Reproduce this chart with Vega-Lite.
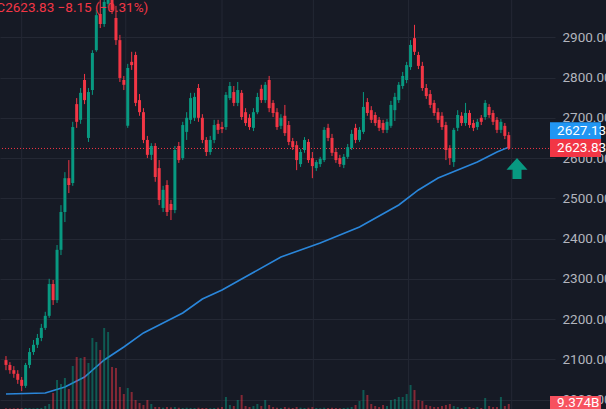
{
  "$schema": "https://vega.github.io/schema/vega-lite/v6.json",
  "width": 555,
  "height": 409,
  "autosize": {"type": "none"},
  "padding": {"left": 0, "top": 0, "right": 51, "bottom": 0},
  "background": "#161A25",
  "config": {"view": {"stroke": null}, "font": "Roboto"},
  "datasets": {
    "candles": [
      {"i":0,"o":2098,"h":2108,"l":2073,"c":2086,"v":1.5},
      {"i":1,"o":2086,"h":2093,"l":2064,"c":2073,"v":1.2},
      {"i":2,"o":2073,"h":2083,"l":2054,"c":2064,"v":1.5},
      {"i":3,"o":2064,"h":2073,"l":2039,"c":2049,"v":1.9},
      {"i":4,"o":2049,"h":2056,"l":2021,"c":2034,"v":1.5},
      {"i":5,"o":2034,"h":2091,"l":2029,"c":2086,"v":1.9},
      {"i":6,"o":2086,"h":2128,"l":2078,"c":2118,"v":1.5},
      {"i":7,"o":2118,"h":2148,"l":2111,"c":2136,"v":1.2},
      {"i":8,"o":2136,"h":2163,"l":2128,"c":2153,"v":1.9},
      {"i":9,"o":2153,"h":2188,"l":2145,"c":2178,"v":1.9},
      {"i":10,"o":2178,"h":2218,"l":2173,"c":2208,"v":5.6},
      {"i":11,"o":2208,"h":2300,"l":2203,"c":2287,"v":9.4},
      {"i":12,"o":2287,"h":2297,"l":2235,"c":2247,"v":30},
      {"i":13,"o":2247,"h":2384,"l":2240,"c":2372,"v":54.4},
      {"i":14,"o":2372,"h":2483,"l":2359,"c":2466,"v":46.9},
      {"i":15,"o":2466,"h":2565,"l":2441,"c":2550,"v":58.1},
      {"i":16,"o":2550,"h":2595,"l":2513,"c":2533,"v":37.5},
      {"i":17,"o":2538,"h":2690,"l":2531,"c":2677,"v":80.6},
      {"i":18,"o":2734,"h":2749,"l":2675,"c":2690,"v":97.5},
      {"i":19,"o":2695,"h":2774,"l":2685,"c":2762,"v":95.6},
      {"i":20,"o":2794,"h":2809,"l":2734,"c":2744,"v":97.5},
      {"i":21,"o":2650,"h":2774,"l":2640,"c":2764,"v":86.3},
      {"i":22,"o":2769,"h":2868,"l":2757,"c":2861,"v":133.1},
      {"i":23,"o":2868,"h":2968,"l":2864,"c":2955,"v":125.6},
      {"i":24,"o":2958,"h":2993,"l":2923,"c":2933,"v":110.6},
      {"i":25,"o":2933,"h":3013,"l":2926,"c":2988,"v":151.9},
      {"i":26,"o":2983,"h":3042,"l":2973,"c":3013,"v":144.4},
      {"i":27,"o":3008,"h":3027,"l":2958,"c":2968,"v":78.8},
      {"i":28,"o":2948,"h":2978,"l":2881,"c":2893,"v":76.9},
      {"i":29,"o":2893,"h":2906,"l":2789,"c":2799,"v":41.3},
      {"i":30,"o":2794,"h":2804,"l":2769,"c":2782,"v":28.1},
      {"i":31,"o":2680,"h":2834,"l":2675,"c":2824,"v":39.4},
      {"i":32,"o":2839,"h":2864,"l":2819,"c":2831,"v":31.9},
      {"i":33,"o":2856,"h":2864,"l":2729,"c":2737,"v":16.9},
      {"i":34,"o":2744,"h":2759,"l":2705,"c":2714,"v":11.3},
      {"i":35,"o":2714,"h":2724,"l":2637,"c":2645,"v":7.5},
      {"i":36,"o":2645,"h":2655,"l":2600,"c":2608,"v":16.9},
      {"i":37,"o":2608,"h":2637,"l":2595,"c":2630,"v":9.4},
      {"i":38,"o":2630,"h":2637,"l":2541,"c":2553,"v":3.8},
      {"i":39,"o":2575,"h":2595,"l":2483,"c":2496,"v":3.8},
      {"i":40,"o":2476,"h":2531,"l":2466,"c":2521,"v":2.5},
      {"i":41,"o":2533,"h":2545,"l":2456,"c":2466,"v":3.8},
      {"i":42,"o":2486,"h":2496,"l":2446,"c":2471,"v":3.0},
      {"i":43,"o":2471,"h":2630,"l":2463,"c":2620,"v":3.8},
      {"i":44,"o":2630,"h":2640,"l":2588,"c":2595,"v":2.5},
      {"i":45,"o":2600,"h":2690,"l":2595,"c":2682,"v":1.9},
      {"i":46,"o":2665,"h":2714,"l":2645,"c":2700,"v":2.5},
      {"i":47,"o":2695,"h":2762,"l":2685,"c":2749,"v":1.9},
      {"i":48,"o":2700,"h":2762,"l":2692,"c":2752,"v":1.9},
      {"i":49,"o":2774,"h":2784,"l":2690,"c":2700,"v":2.5},
      {"i":50,"o":2700,"h":2709,"l":2637,"c":2645,"v":1.9},
      {"i":51,"o":2645,"h":2652,"l":2605,"c":2615,"v":1.9},
      {"i":52,"o":2615,"h":2655,"l":2608,"c":2645,"v":1.5},
      {"i":53,"o":2645,"h":2695,"l":2637,"c":2682,"v":1.9},
      {"i":54,"o":2685,"h":2695,"l":2660,"c":2670,"v":2.5},
      {"i":55,"o":2677,"h":2690,"l":2662,"c":2672,"v":3.8},
      {"i":56,"o":2677,"h":2764,"l":2670,"c":2757,"v":22.5},
      {"i":57,"o":2749,"h":2789,"l":2744,"c":2779,"v":7.5},
      {"i":58,"o":2764,"h":2779,"l":2729,"c":2737,"v":5.6},
      {"i":59,"o":2737,"h":2789,"l":2729,"c":2769,"v":16.9},
      {"i":60,"o":2762,"h":2769,"l":2695,"c":2702,"v":26.3},
      {"i":61,"o":2714,"h":2724,"l":2680,"c":2687,"v":5.6},
      {"i":62,"o":2700,"h":2709,"l":2670,"c":2677,"v":3.8},
      {"i":63,"o":2675,"h":2724,"l":2667,"c":2714,"v":5.6},
      {"i":64,"o":2714,"h":2762,"l":2709,"c":2752,"v":9.4},
      {"i":65,"o":2772,"h":2782,"l":2737,"c":2744,"v":5.6},
      {"i":66,"o":2744,"h":2789,"l":2737,"c":2782,"v":16.9},
      {"i":67,"o":2794,"h":2804,"l":2714,"c":2724,"v":7.5},
      {"i":68,"o":2737,"h":2744,"l":2702,"c":2712,"v":3.8},
      {"i":69,"o":2714,"h":2724,"l":2670,"c":2677,"v":2.5},
      {"i":70,"o":2680,"h":2709,"l":2672,"c":2700,"v":1.9},
      {"i":71,"o":2705,"h":2732,"l":2655,"c":2662,"v":3.8},
      {"i":72,"o":2682,"h":2692,"l":2632,"c":2640,"v":2.5},
      {"i":73,"o":2642,"h":2650,"l":2620,"c":2627,"v":1.9},
      {"i":74,"o":2632,"h":2642,"l":2570,"c":2595,"v":3.8},
      {"i":75,"o":2585,"h":2622,"l":2578,"c":2615,"v":2.5},
      {"i":76,"o":2620,"h":2652,"l":2613,"c":2645,"v":1.9},
      {"i":77,"o":2640,"h":2647,"l":2588,"c":2595,"v":2.5},
      {"i":78,"o":2600,"h":2615,"l":2550,"c":2580,"v":3.8},
      {"i":79,"o":2575,"h":2595,"l":2568,"c":2590,"v":1.9},
      {"i":80,"o":2585,"h":2603,"l":2578,"c":2598,"v":1.5},
      {"i":81,"o":2595,"h":2677,"l":2590,"c":2670,"v":2.5},
      {"i":82,"o":2675,"h":2685,"l":2642,"c":2650,"v":1.9},
      {"i":83,"o":2650,"h":2660,"l":2605,"c":2613,"v":2.5},
      {"i":84,"o":2615,"h":2625,"l":2588,"c":2595,"v":1.9},
      {"i":85,"o":2600,"h":2608,"l":2578,"c":2585,"v":1.5},
      {"i":86,"o":2583,"h":2610,"l":2575,"c":2603,"v":1.9},
      {"i":87,"o":2603,"h":2635,"l":2598,"c":2627,"v":2.5},
      {"i":88,"o":2625,"h":2670,"l":2620,"c":2660,"v":3.8},
      {"i":89,"o":2675,"h":2685,"l":2637,"c":2645,"v":7.5},
      {"i":90,"o":2645,"h":2677,"l":2640,"c":2670,"v":15},
      {"i":91,"o":2665,"h":2764,"l":2660,"c":2727,"v":35.6},
      {"i":92,"o":2739,"h":2749,"l":2705,"c":2712,"v":26.3},
      {"i":93,"o":2719,"h":2729,"l":2687,"c":2695,"v":9.4},
      {"i":94,"o":2707,"h":2714,"l":2680,"c":2687,"v":5.6},
      {"i":95,"o":2695,"h":2702,"l":2667,"c":2675,"v":3.8},
      {"i":96,"o":2687,"h":2695,"l":2662,"c":2670,"v":7.5},
      {"i":97,"o":2670,"h":2697,"l":2662,"c":2690,"v":5.6},
      {"i":98,"o":2680,"h":2742,"l":2675,"c":2732,"v":16.9},
      {"i":99,"o":2719,"h":2762,"l":2692,"c":2752,"v":18.8},
      {"i":100,"o":2744,"h":2789,"l":2737,"c":2782,"v":22.5},
      {"i":101,"o":2779,"h":2814,"l":2772,"c":2804,"v":22.5},
      {"i":102,"o":2794,"h":2839,"l":2786,"c":2831,"v":28.1},
      {"i":103,"o":2826,"h":2893,"l":2819,"c":2881,"v":45},
      {"i":104,"o":2898,"h":2931,"l":2856,"c":2864,"v":35.6},
      {"i":105,"o":2856,"h":2864,"l":2821,"c":2829,"v":16.9},
      {"i":106,"o":2829,"h":2839,"l":2767,"c":2774,"v":15},
      {"i":107,"o":2774,"h":2784,"l":2747,"c":2754,"v":7.5},
      {"i":108,"o":2759,"h":2769,"l":2724,"c":2732,"v":5.6},
      {"i":109,"o":2737,"h":2744,"l":2705,"c":2712,"v":3.8},
      {"i":110,"o":2714,"h":2724,"l":2687,"c":2695,"v":3.8},
      {"i":111,"o":2705,"h":2714,"l":2670,"c":2677,"v":5.6},
      {"i":112,"o":2682,"h":2690,"l":2595,"c":2620,"v":7.5},
      {"i":113,"o":2625,"h":2632,"l":2583,"c":2600,"v":9.4},
      {"i":114,"o":2590,"h":2675,"l":2578,"c":2670,"v":5.6},
      {"i":115,"o":2675,"h":2719,"l":2667,"c":2707,"v":3.8},
      {"i":116,"o":2705,"h":2714,"l":2680,"c":2687,"v":1.9},
      {"i":117,"o":2687,"h":2737,"l":2680,"c":2712,"v":3.8},
      {"i":118,"o":2712,"h":2719,"l":2675,"c":2682,"v":3.8},
      {"i":119,"o":2687,"h":2695,"l":2667,"c":2675,"v":1.9},
      {"i":120,"o":2677,"h":2697,"l":2670,"c":2690,"v":3.8},
      {"i":121,"o":2700,"h":2707,"l":2682,"c":2690,"v":1.9},
      {"i":122,"o":2702,"h":2744,"l":2695,"c":2737,"v":20.6},
      {"i":123,"o":2727,"h":2734,"l":2700,"c":2707,"v":5.6},
      {"i":124,"o":2712,"h":2719,"l":2682,"c":2690,"v":3.8},
      {"i":125,"o":2695,"h":2702,"l":2662,"c":2670,"v":3.8},
      {"i":126,"o":2670,"h":2697,"l":2662,"c":2690,"v":22.5},
      {"i":127,"o":2680,"h":2687,"l":2647,"c":2655,"v":5.6},
      {"i":128,"o":2657,"h":2665,"l":2620,"c":2623.83,"v":9.374}
    ],
    "ma": [
      {"i":0,"m":2013.8},{"i":10,"m":2016.3},{"i":15,"m":2031.2},{"i":20,"m":2056.0},{"i":25,"m":2098.3},
      {"i":30,"m":2130.6},{"i":35,"m":2165.4},{"i":40,"m":2190.2},{"i":45,"m":2215.1},{"i":50,"m":2249.8},
      {"i":55,"m":2272.2},{"i":60,"m":2299.5},{"i":70,"m":2354.2},{"i":80,"m":2389.0},{"i":90,"m":2428.7},
      {"i":100,"m":2483.4},{"i":105,"m":2520.7},{"i":110,"m":2550.5},{"i":115,"m":2570.3},{"i":120,"m":2590.2},
      {"i":125,"m":2615.1},{"i":128,"m":2627.13}
    ],
    "vgrid": [{"g":4},{"g":30.5},{"g":55},{"g":78.25},{"g":102.5},{"g":128.75}]
  },
  "layer": [
    {
      "data": {"name": "vgrid"},
      "mark": {"type": "rule", "color": "#242834", "strokeWidth": 1},
      "encoding": {
        "x": {"field": "g", "type": "quantitative", "scale": {"domain": [-0.25, 138.5], "nice": false, "zero": false}, "axis": null}
      }
    },
    {
      "data": {"values": [{"p": 2623.83}]},
      "mark": {"type": "rule", "color": "#F23645", "strokeWidth": 1, "strokeDash": [1, 2]},
      "encoding": {
        "y": {"field": "p", "type": "quantitative", "scale": {"domain": [1976.5, 2992.7], "nice": false, "zero": false},
          "axis": {"orient": "right", "values": [2000, 2100, 2200, 2300, 2400, 2500, 2600, 2700, 2800, 2900, 3000], "format": ".2f", "grid": true, "gridColor": "#242834", "gridWidth": 1, "ticks": false, "tickSize": 0, "domain": false, "labelPadding": 7, "labelColor": "#B2B5BE", "labelFontSize": 13.5, "labelFont": "Roboto", "labelFlush": false, "labelOverlap": false, "labelBound": false, "title": null, "zindex": 0}}
      }
    },
    {
      "data": {"name": "ma"},
      "mark": {"type": "line", "color": "#2A86DA", "strokeWidth": 1.6},
      "encoding": {
        "x": {"field": "i", "type": "quantitative", "axis": null},
        "y": {"field": "m", "type": "quantitative", "scale": {"domain": [1976.5, 2992.7], "nice": false, "zero": false}, "axis": null}
      }
    },
    {
      "data": {"name": "candles"},
      "mark": {"type": "rule", "strokeWidth": 1, "clip": true},
      "encoding": {
        "x": {"field": "i", "type": "quantitative", "axis": null},
        "y": {"field": "l", "type": "quantitative", "scale": {"domain": [1976.5, 2992.7], "nice": false, "zero": false}, "axis": null},
        "y2": {"field": "h"},
        "color": {"condition": {"test": "datum.c >= datum.o", "value": "#089981"}, "value": "#F23645"}
      }
    },
    {
      "data": {"name": "candles"},
      "mark": {"type": "bar", "width": 3, "clip": true},
      "encoding": {
        "x": {"field": "i", "type": "quantitative", "axis": null},
        "y": {"field": "o", "type": "quantitative", "scale": {"domain": [1976.5, 2992.7], "nice": false, "zero": false}, "axis": null},
        "y2": {"field": "c"},
        "color": {"condition": {"test": "datum.c >= datum.o", "value": "#089981"}, "value": "#F23645"}
      }
    },
    {
      "data": {"name": "candles"},
      "mark": {"type": "bar", "width": 2, "opacity": 0.5},
      "encoding": {
        "x": {"field": "i", "type": "quantitative", "axis": null},
        "y": {"field": "v", "type": "quantitative", "scale": {"domain": [0, 767], "nice": false, "zero": true}, "axis": null},
        "color": {"condition": {"test": "datum.c >= datum.o", "value": "#089981"}, "value": "#F23645"}
      }
    },
    {
      "data": {"values": [{"p": 2574}]},
      "mark": {"type": "point", "shape": "M0,-1L1,0.12L0.43,0.12L0.43,1L-0.43,1L-0.43,0.12L-1,0.12Z", "size": 441, "filled": true, "opacity": 1, "color": "#089981", "strokeWidth": 0},
      "encoding": {
        "x": {"datum": 130.1, "type": "quantitative", "axis": null},
        "y": {"field": "p", "type": "quantitative", "scale": {"domain": [1976.5, 2992.7], "nice": false, "zero": false}, "axis": null}
      }
    },
    {
      "data": {"values": [{"p": 2972.1, "t": "C2623.83 −8.15 (−0.31%)"}]},
      "mark": {"type": "text", "color": "#F23645", "align": "left", "baseline": "middle", "fontSize": 13.5, "font": "Roboto"},
      "encoding": {
        "x": {"datum": -2.45, "type": "quantitative", "axis": null},
        "y": {"field": "p", "type": "quantitative", "scale": {"domain": [1976.5, 2992.7], "nice": false, "zero": false}, "axis": null},
        "text": {"field": "t"}
      }
    },
    {
      "data": {"values": [{"p": 2627.13}]},
      "mark": {"type": "rect", "color": "#2196F3", "yOffset": -25, "y2Offset": -8},
      "encoding": {
        "x": {"datum": 138.5, "type": "quantitative", "axis": null},
        "x2": {"datum": 151.5},
        "y": {"field": "p", "type": "quantitative", "scale": {"domain": [1976.5, 2992.7], "nice": false, "zero": false}, "axis": null},
        "y2": {"field": "p"}
      }
    },
    {
      "data": {"values": [{"p": 2627.13, "t": "2627.13"}]},
      "mark": {"type": "text", "color": "#FFFFFF", "align": "left", "baseline": "middle", "dy": -16.5, "fontSize": 13.5, "font": "Roboto"},
      "encoding": {
        "x": {"datum": 140.3, "type": "quantitative", "axis": null},
        "y": {"field": "p", "type": "quantitative", "scale": {"domain": [1976.5, 2992.7], "nice": false, "zero": false}, "axis": null},
        "text": {"field": "t"}
      }
    },
    {
      "data": {"values": [{"p": 2623.83}]},
      "mark": {"type": "rect", "color": "#F23645", "yOffset": -9.5, "y2Offset": 8.5},
      "encoding": {
        "x": {"datum": 138.5, "type": "quantitative", "axis": null},
        "x2": {"datum": 151.5},
        "y": {"field": "p", "type": "quantitative", "scale": {"domain": [1976.5, 2992.7], "nice": false, "zero": false}, "axis": null},
        "y2": {"field": "p"}
      }
    },
    {
      "data": {"values": [{"p": 2623.83, "t": "2623.83"}]},
      "mark": {"type": "text", "color": "#FFFFFF", "align": "left", "baseline": "middle", "dy": -0.5, "fontSize": 13.5, "font": "Roboto"},
      "encoding": {
        "x": {"datum": 140.3, "type": "quantitative", "axis": null},
        "y": {"field": "p", "type": "quantitative", "scale": {"domain": [1976.5, 2992.7], "nice": false, "zero": false}, "axis": null},
        "text": {"field": "t"}
      }
    },
    {
      "data": {"values": [{"v": 9.374}]},
      "mark": {"type": "rect", "color": "#F7525F", "yOffset": -8, "y2Offset": 6},
      "encoding": {
        "x": {"datum": 138.5, "type": "quantitative", "axis": null},
        "x2": {"datum": 151.5},
        "y": {"field": "v", "type": "quantitative", "scale": {"domain": [0, 767], "nice": false, "zero": true}, "axis": null},
        "y2": {"field": "v"}
      }
    },
    {
      "data": {"values": [{"v": 9.374, "t": "9.374B"}]},
      "mark": {"type": "text", "color": "#FFFFFF", "align": "left", "baseline": "middle", "dy": -1.5, "fontSize": 13.5, "font": "Roboto"},
      "encoding": {
        "x": {"datum": 140.3, "type": "quantitative", "axis": null},
        "y": {"field": "v", "type": "quantitative", "scale": {"domain": [0, 767], "nice": false, "zero": true}, "axis": null},
        "text": {"field": "t"}
      }
    }
  ],
  "resolve": {"scale": {"y": "independent"}}
}
